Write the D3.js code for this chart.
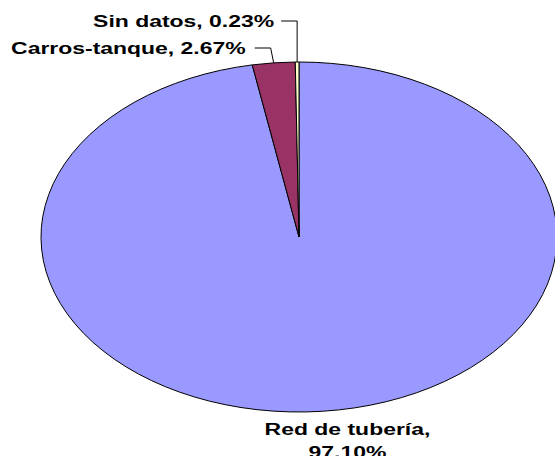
<!DOCTYPE html>
<html>
<head>
<meta charset="utf-8">
<script src="https://cdn.jsdelivr.net/npm/d3@7"></script>
<style>
  body { margin: 0; background: #fff; }
  svg text { font-family: "Liberation Sans", Arial, sans-serif; font-weight: bold; font-size: 17px; fill: #000; }
</style>
</head>
<body>
<svg class="chart"></svg>
<script>
// share of water supply source
var categories = ['Red de tubería', 'Carros-tanque', 'Sin datos']
var values = [97.10, 2.67, 0.23]
var labels = ['Red de tubería,|97.10%', 'Carros-tanque, 2.67%', 'Sin datos, 0.23%']
var colors = ['#9999ff', '#993366', '#ffffcc']

var w = 555, h = 456
var cx = 299, cy = 237, rx = 258, ry = 175
var stretch = 1.35   // the original text is drawn wide

var svg = d3.select('.chart')
    .attr('width', w)
    .attr('height', h)

var pie = d3.pie().sort(null).value(function(d) { return d })
var arcs = pie(values)

var arc = d3.arc().innerRadius(0).outerRadius(rx)

var g = svg.append('g')
    .attr('transform', 'translate(' + cx + ',' + cy + ') scale(1,' + (ry / rx) + ')')

g.selectAll('path')
    .data(arcs)
  .enter().append('path')
    .attr('d', arc)
    .attr('fill', function(d, i) { return colors[i] })
    .attr('stroke', '#000')
    .attr('stroke-width', 1)
    .attr('vector-effect', 'non-scaling-stroke')

// point on the ellipse edge for a slice's middle angle
function edge(d) {
  var a = (d.startAngle + d.endAngle) / 2
  return [cx + rx * Math.sin(a), cy - ry * Math.cos(a)]
}

function label(txt, x, y, anchor) {
  var lines = txt.split('|')
  var t = svg.append('text')
      .attr('text-anchor', anchor)
      .attr('transform', 'translate(' + x + ',' + y + ') scale(' + stretch + ',1)')
  lines.forEach(function(l, k) {
    t.append('tspan').attr('x', 0).attr('dy', k ? 23 : 0).text(l)
  })
}

// Sin datos: elbow leader from top
var p2 = edge(arcs[2])
svg.append('path')
    .attr('d', 'M' + (p2[0] - 16) + ',21H' + p2[0] + 'V' + p2[1])
    .attr('fill', 'none').attr('stroke', '#000').attr('stroke-width', 1)
label(labels[2], p2[0] - 23, 27, 'end')

// Carros-tanque
var p1 = edge(arcs[1])
svg.append('path')
    .attr('d', 'M' + (p1[0] - 19) + ',48H' + (p1[0] - 3) + 'L' + p1[0] + ',' + p1[1])
    .attr('fill', 'none').attr('stroke', '#000').attr('stroke-width', 1)
label(labels[1], p1[0] - 28, 54, 'end')

// Red de tubería, below the pie
var p0 = edge(arcs[0])
label(labels[0], p0[0] + 25, 435, 'middle')
</script>
</body>
</html>
